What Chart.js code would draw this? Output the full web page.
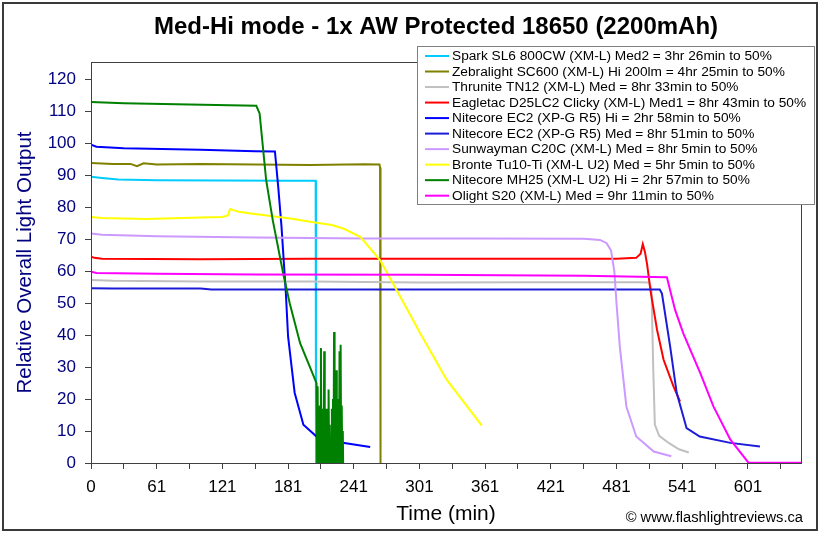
<!DOCTYPE html>
<html><head><meta charset="utf-8">
<script src="https://cdn.jsdelivr.net/npm/chart.js@4.4.1/dist/chart.umd.min.js"></script>
<style>html,body{margin:0;padding:0;background:#fff;}canvas{display:block;}</style>
</head><body>
<canvas id="c" width="822" height="535"></canvas>
<script>
const chartTitle = 'Med-Hi mode - 1x AW Protected 18650 (2200mAh)';
const xTitle = 'Time (min)';
const yTitle = 'Relative Overall Light Output';
const credit = '\u00A9 www.flashlightreviews.ca';
const xTickLabels = ['0','61','121','181','241','301','361','421','481','541','601'];

const seriesNames = [
  'Spark SL6 800CW (XM-L) Med2 = 3hr 26min to 50%',
  'Zebralight SC600 (XM-L) Hi 200lm = 4hr 25min to 50%',
  'Thrunite TN12 (XM-L) Med = 8hr 33min to 50%',
  'Eagletac D25LC2 Clicky (XM-L) Med1 = 8hr 43min to 50%',
  'Nitecore EC2 (XP-G R5) Hi = 2hr 58min to 50%',
  'Nitecore EC2 (XP-G R5) Med = 8hr 51min to 50%',
  'Sunwayman C20C (XM-L) Med = 8hr 5min to 50%',
  'Bronte Tu10-Ti (XM-L U2) Med = 5hr 5min to 50%',
  'Nitecore MH25 (XM-L U2) Hi = 2hr 57min to 50%',
  'Olight S20 (XM-L) Med = 9hr 11min to 50%'
];
const seriesColors = ['#00ccff','#808000','#c0c0c0','#ff0000','#0000ff','#1c1cd8','#cc99ff','#ffff00','#008000','#ff00ff'];

const sparkT = [0, 10, 25, 60, 120, 180, 205.2, 205.5];
const sparkV = [89.6, 89.2, 88.7, 88.5, 88.4, 88.3, 88.3, 0];

const zebraT = [0, 20, 36, 42, 48, 60, 100, 150, 200, 250, 263.5, 264, 264.3, 264.6];
const zebraV = [93.9, 93.6, 93.6, 92.9, 93.8, 93.4, 93.6, 93.4, 93.3, 93.5, 93.4, 92.5, 47, 0];

const thruT = [0, 20, 100, 200, 300, 400, 500, 510, 512, 513.5, 515, 519, 528, 537, 546];
const thruV = [57.3, 57.0, 56.8, 56.8, 56.5, 56.6, 56.6, 56.5, 54, 30, 12, 8.5, 6.2, 4.3, 3.3];

const eagleT = [0, 3, 10, 100, 200, 300, 400, 480, 498, 502, 504, 506, 508, 511, 517, 523, 532, 538];
const eagleV = [64.6, 64.2, 63.9, 63.8, 63.9, 63.9, 63.9, 63.9, 64.2, 65.5, 68.5, 66, 62, 54, 41.7, 32.3, 24, 19.3];

const ec2HiT = [0, 5, 30, 100, 150, 168, 171, 174, 178, 180, 186, 194, 206, 221, 255];
const ec2HiV = [99.6, 99, 98.5, 98, 97.6, 97.5, 86.4, 74, 53, 39.6, 22, 12, 8.3, 6.8, 5];

const ec2MedT = [0, 20, 100, 110, 200, 300, 400, 500, 519.5, 521.5, 529, 535, 544, 556, 584, 611];
const ec2MedV = [54.7, 54.6, 54.6, 54.3, 54.3, 54.3, 54.3, 54.3, 54.3, 53, 36.4, 21.9, 10.9, 8.3, 6.3, 5.2];

const sunT = [0, 10, 60, 150, 250, 350, 450, 465, 471, 475, 478, 480, 483, 489, 498, 514, 530];
const sunV = [71.8, 71.4, 71, 70.6, 70.3, 70.3, 70.2, 69.8, 68.8, 66.5, 60, 50, 36.4, 17.7, 8.3, 3.6, 2.1];

const bronteT = [0, 10, 50, 100, 120, 125, 127, 135, 148, 182, 206, 220, 231, 246, 264, 279, 294, 300, 325, 357];
const bronteV = [77, 76.7, 76.4, 76.8, 77, 77.5, 79.5, 78.6, 78, 76.5, 75.2, 74.5, 73.3, 70.8, 63.5, 54.2, 44.8, 41, 26, 11.7];

const mh25T = [0, 30, 90, 151, 154, 160, 166, 175.5, 181.5, 191, 206, 206.5, 207, 207.5, 208, 208.5, 209, 209.5, 210, 210.5, 211, 211.5, 212, 212.5, 213, 213.5, 214, 214.5, 215, 215.5, 216, 216.5, 217, 217.5, 218, 218.5, 219, 219.5, 220, 220.5, 221, 221.5, 222, 222.5, 223, 223.5, 224, 224.5, 225, 225.5, 226, 226.5, 227, 227.5, 228, 228.5, 229, 229.5, 230, 230.3];
const mh25V = [113, 112.6, 112.2, 111.8, 109.4, 88.5, 76, 59.4, 50, 37.5, 25, 0, 24, 0, 17, 0, 18, 0, 36, 0, 17, 0, 10, 0, 35, 0, 17, 0, 12, 0, 17, 0, 23, 0, 12, 0, 8, 0, 17, 0, 20, 0, 41, 0, 20, 0, 29, 0, 20, 0, 18, 0, 35, 0, 37, 0, 18, 0, 10, 0];

const olightT = [0, 5, 60, 150, 300, 450, 526, 533.5, 541, 556.5, 568.5, 584, 600.5, 649];
const olightV = [59.9, 59.5, 59.2, 59.0, 58.9, 58.6, 58.1, 47.9, 40.6, 28.1, 17.7, 7.3, 0.1, 0.1];

const seriesT = [sparkT, zebraT, thruT, eagleT, ec2HiT, ec2MedT, sunT, bronteT, mh25T, olightT];
const seriesV = [sparkV, zebraV, thruV, eagleV, ec2HiV, ec2MedV, sunV, bronteV, mh25V, olightV];

const FONT = "'Liberation Sans', Arial, sans-serif";
Chart.defaults.font.family = FONT;

const datasets = seriesT.map((T, i) => ({
  label: seriesNames[i],
  data: T.map((t, j) => ({x: t, y: seriesV[i][j]})),
  borderColor: seriesColors[i],
  backgroundColor: seriesColors[i],
  borderWidth: 2,
  pointRadius: 0,
  tension: 0,
  fill: false,
  order: seriesT.length - i
}));

const decor = {
  id: 'decor',
  beforeDraw(chart) {
    const ctx = chart.ctx;
    ctx.save();
    ctx.fillStyle = '#ffffff';
    ctx.fillRect(0, 0, chart.width, chart.height);
    ctx.restore();
  },
  afterDraw(chart) {
    const ctx = chart.ctx;
    const a = chart.chartArea;
    ctx.save();
    // plot frame
    ctx.strokeStyle = '#404040';
    ctx.lineWidth = 1;
    ctx.strokeRect(Math.round(a.left) + 0.5, Math.round(a.top) + 0.5, Math.round(a.right - a.left), Math.round(a.bottom - a.top));
    // outer frame
    ctx.lineWidth = 2;
    ctx.strokeStyle = '#3a3a3a';
    ctx.strokeRect(3, 3, 814, 527);
    // title
    ctx.fillStyle = '#000';
    ctx.font = "bold 24px " + FONT;
    ctx.textAlign = 'center';
    ctx.textBaseline = 'middle';
    ctx.fillText(chartTitle, 436, 27);
    // legend
    const lx = 417.5, ly = 46.5, lw = 397, lh = 158;
    ctx.fillStyle = '#fff';
    ctx.fillRect(lx, ly, lw, lh);
    ctx.strokeStyle = '#808080';
    ctx.lineWidth = 1;
    ctx.strokeRect(lx, ly, lw, lh);
    ctx.font = "13.7px " + FONT;
    ctx.textAlign = 'left';
    ctx.textBaseline = 'middle';
    seriesNames.forEach((name, i) => {
      const y = 56 + i * 15.52;
      ctx.strokeStyle = seriesColors[i];
      ctx.lineWidth = 2;
      ctx.beginPath();
      ctx.moveTo(425, y);
      ctx.lineTo(449, y);
      ctx.stroke();
      ctx.fillStyle = '#000';
      ctx.fillText(name, 452, y + 0.5);
    });
    // credit
    ctx.font = "14.7px " + FONT;
    ctx.textAlign = 'right';
    ctx.fillStyle = '#000';
    ctx.fillText(credit, 803, 518);
    ctx.restore();
  }
};

new Chart(document.getElementById('c'), {
  type: 'line',
  data: {datasets},
  plugins: [decor],
  options: {
    responsive: false,
    animation: false,
    devicePixelRatio: 1,
    layout: {padding: {top: 62, right: 21, left: 0, bottom: 0}},
    plugins: {legend: {display: false}, tooltip: {enabled: false}, title: {display: false}},
    scales: {
      x: {
        type: 'linear', min: 0, max: 648.5,
        afterFit(s) { s.height = 72; },
        border: {display: true, color: '#404040', width: 1},
        grid: {drawOnChartArea: false, drawTicks: true, tickLength: 6, color: '#404040'},
        ticks: {
          stepSize: 30, includeBounds: false, autoSkip: false, maxRotation: 0, minRotation: 0,
          color: '#000', font: {size: 17}, padding: 8,
          callback(v) { const r = Math.round(v); return r % 60 === 0 ? xTickLabels[r / 60] : ''; }
        },
        title: {display: true, text: xTitle, color: '#000', font: {size: 21}, padding: {top: 0, bottom: 8}}
      },
      y: {
        min: 0, max: 125.5,
        afterFit(s) { s.width = 91; },
        border: {display: true, color: '#404040', width: 1},
        grid: {drawOnChartArea: false, drawTicks: true, tickLength: 6, color: '#404040'},
        ticks: {stepSize: 10, includeBounds: false, color: '#000080', font: {size: 17}, padding: 9},
        title: {display: true, text: yTitle, color: '#000080', font: {size: 20.5}, padding: {top: 13, bottom: 0}}
      }
    }
  }
});
</script>
</body></html>
